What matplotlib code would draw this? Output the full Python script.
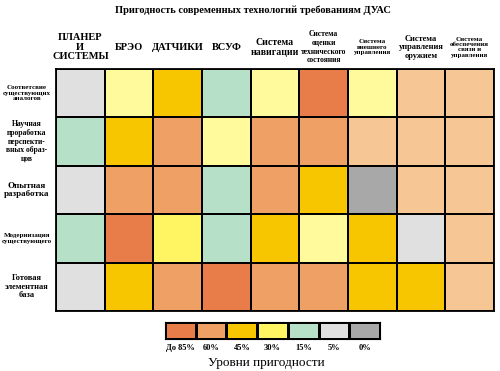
import matplotlib
matplotlib.use('Agg')
import matplotlib.pyplot as plt
import numpy as np
from matplotlib.colors import ListedColormap, BoundaryNorm

plt.rcParams['font.family'] = ['Liberation Serif', 'DejaVu Serif']

# level codes: 0=85%, 1=60%, 2=45%, 3=30%, 4=15%, 5=5%, 6=0%, 7=pale yellow, 8=peach
level_colors = ['#E87D4A', '#EFA065', '#F7C600', '#FFF563', '#B7E0C8',
                '#E0E0E0', '#A8A8A8', '#FFFA9C', '#F6C794']

columns = ['ПЛАНЕР\nИ\nСИСТЕМЫ', 'БРЭО', 'ДАТЧИКИ', 'ВСУФ', 'Система\nнавигации',
           'Система\nоценки\nтехнического\nсостояния', 'Система\nвнешнего\nуправления',
           'Система\nуправления\nоружием', 'Система\nобеспечения\nсвязи и\nуправления']
col_sizes = [7.5, 7.5, 7.5, 7.5, 7, 5.5, 5, 6, 5]

rows = ['Соответсвие\nсуществующих\nаналогов', 'Научная\nпроработка\nперспекти-\nвных образ-\nцов',
        'Опытная\nразработка', 'Модернизация\nсуществующего', 'Готовая\nэлементная\nбаза']
row_sizes = [5, 5.5, 6.5, 5, 6]

row1 = [5, 7, 2, 4, 7, 0, 7, 8, 8]
row2 = [4, 2, 1, 7, 1, 1, 8, 8, 8]
row3 = [5, 1, 1, 4, 1, 2, 6, 8, 8]
row4 = [4, 0, 3, 4, 2, 7, 2, 5, 8]
row5 = [5, 2, 1, 0, 1, 1, 2, 2, 8]

legend_labels = ['До 85%', '60%', '45%', '30%', '15%', '5%', '0%']
legend_codes = [0, 1, 2, 3, 4, 5, 6]

grid = np.array([row1, row2, row3, row4, row5])
cmap = ListedColormap(level_colors)
norm = BoundaryNorm(np.arange(-0.5, len(level_colors)), cmap.N)

fig = plt.figure(figsize=(5, 3.71), dpi=100)
fig.text(0.505, 0.972, 'Пригодность современных технологий требованиям ДУАС',
         ha='center', va='center', fontsize=7.5, fontweight='bold')

ax = fig.add_axes([0.112, 0.162, 0.876, 0.652])
ax.pcolormesh(grid, cmap=cmap, norm=norm, edgecolors='black', linewidth=1.3)
ax.set_xlim(0, grid.shape[1])
ax.set_ylim(grid.shape[0], 0)
ax.set_xticks([])
ax.set_yticks([])
for s in ax.spines.values():
    s.set_linewidth(1.3)

for j, (lab, fs) in enumerate(zip(columns, col_sizes)):
    ax.text(j + 0.5, -0.45, lab, ha='center', va='center', fontsize=fs,
            fontweight='bold', linespacing=1.1)
for i, (lab, fs) in enumerate(zip(rows, row_sizes)):
    ax.text(-0.6, i + 0.5, lab, ha='center', va='center', fontsize=fs,
            fontweight='bold', linespacing=1.1)

lax = fig.add_axes([0.33, 0.086, 0.43, 0.046])
lax.pcolormesh(np.array([legend_codes]), cmap=cmap, norm=norm,
               edgecolors='black', linewidth=1.0)
lax.set_xlim(0, len(legend_codes))
lax.set_ylim(1, 0)
lax.set_xticks([])
lax.set_yticks([])
for k, lab in enumerate(legend_labels):
    lax.text(k + 0.5, 1.3, lab, ha='center', va='top', fontsize=6, fontweight='bold')
fig.text(0.532, 0.022, 'Уровни пригодности', ha='center', va='center', fontsize=9.5)

fig.savefig('out.png', dpi=100)
